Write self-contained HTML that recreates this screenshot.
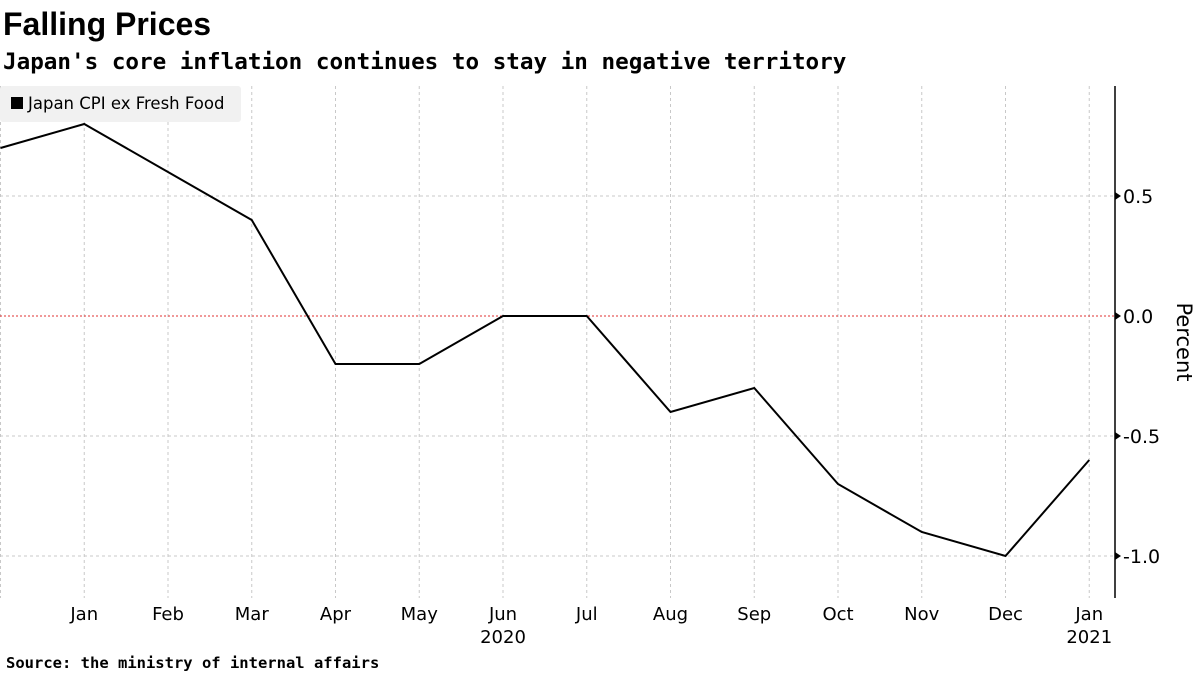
<!DOCTYPE html>
<html><head><meta charset="utf-8"><style>
body{margin:0;background:#fff;width:1200px;height:675px;overflow:hidden;font-family:"DejaVu Sans","Liberation Sans",sans-serif}
</style></head><body>
<svg width="1200" height="675">
<text x="3" y="35" font-size="32" font-weight="bold" font-family="Liberation Sans, sans-serif">Falling Prices</text>
<text x="3" y="69" font-size="22.6" font-weight="bold" font-family="DejaVu Sans Mono, Liberation Mono, monospace">Japan's core inflation continues to stay in negative territory</text>
<g id="grid"></g>
<g id="axis"></g>
<g id="series"></g>
<rect x="0" y="86" width="241" height="36" rx="3" fill="#f1f1f1"/>
<rect x="11" y="97" width="12" height="12" fill="#000"/>
<text x="28" y="109" font-size="16.5">Japan CPI ex Fresh Food</text>
<text x="6" y="668" font-size="15.5" font-weight="bold" font-family="DejaVu Sans Mono, Liberation Mono, monospace">Source: the ministry of internal affairs</text>
</svg>
<script>
const months=["Dec","Jan","Feb","Mar","Apr","May","Jun","Jul","Aug","Sep","Oct","Nov","Dec","Jan"];
const values=[0.7,0.8,0.6,0.4,-0.2,-0.2,0.0,0.0,-0.4,-0.3,-0.7,-0.9,-1.0,-0.6];
const yTicks=[0.5,0.0,-0.5,-1.0];
const yTickLabels=["0.5","0.0","-0.5","-1.0"];
const yearLabels=[{i:6,t:"2020"},{i:13,t:"2021"}];
const NS="http://www.w3.org/2000/svg";
const X=i=>0.5+i*83.75, Y=v=>316-v*240;
const plotTop=86,plotBot=598,axX=1115;
function mk(tag,attrs,parent){const e=document.createElementNS(NS,tag);for(const k in attrs)e.setAttribute(k,attrs[k]);document.getElementById(parent).appendChild(e);return e;}
months.forEach((m,i)=>{
  const g=mk('line',{x1:X(i),x2:X(i),y1:plotTop,y2:plotBot,stroke:'#c8c8c8','stroke-dasharray':'3,3'},'grid');
  
  
  if(i>0){const t=mk('text',{x:X(i),y:620,'font-size':18,'text-anchor':'middle'},'axis');t.textContent=m;
  
  }
});
yearLabels.forEach(o=>{const t=mk('text',{x:X(o.i),y:643,'font-size':18,'text-anchor':'middle'},'axis');t.textContent=o.t;
  
  });
yTicks.forEach((v,k)=>{
  const g=mk('line',{x1:0,x2:axX,y1:Y(v),y2:Y(v),stroke:v===0?'#e03030':'#c8c8c8','stroke-dasharray':v===0?'2,2':'3,3'},'grid');
  
  
  const tk=mk('path',{d:`M${axX} ${Y(v)-4}L${axX+6} ${Y(v)}L${axX} ${Y(v)+4}Z`,fill:'#000'},'axis');
  
  
  const t=mk('text',{x:axX+8,y:Y(v)+7,'font-size':19},'axis');t.textContent=yTickLabels[k];
  
  
});
const ax=mk('line',{x1:axX,x2:axX,y1:plotTop,y2:plotBot,stroke:'#000','stroke-width':1.5},'axis');


const yt=mk('text',{x:0,y:0,'font-size':21,'text-anchor':'middle',transform:'translate(1177,342) rotate(90)'},'axis');yt.textContent='Percent';


const ln=mk('polyline',{points:values.map((v,i)=>X(i)+','+Y(v)).join(' '),fill:'none',stroke:'#000','stroke-width':2},'series');


</script>
</body></html>
